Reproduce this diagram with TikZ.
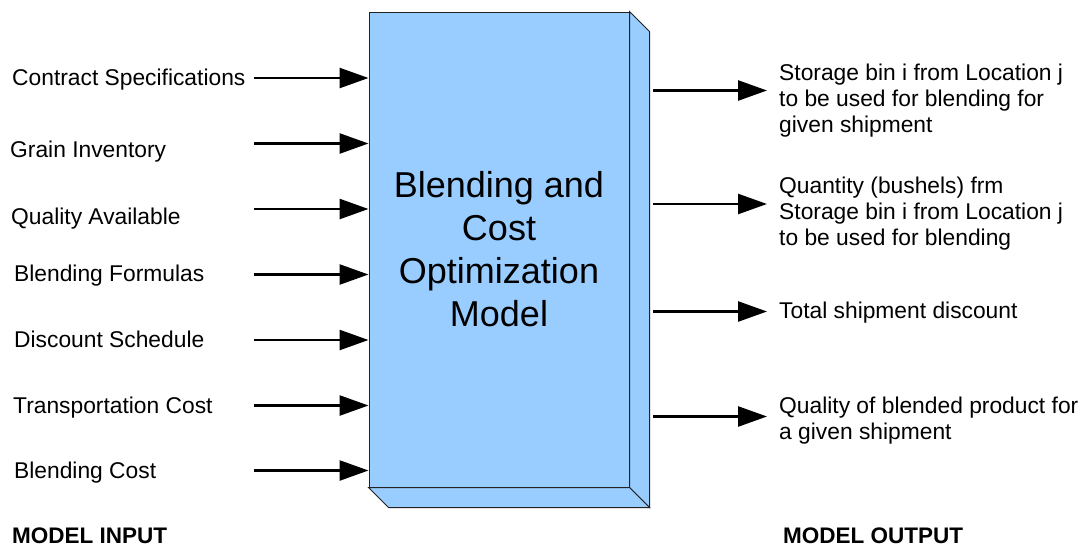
\documentclass[tikz,border=0pt]{standalone}
\usepackage{fontspec}
\setmainfont{Liberation Sans}
\usetikzlibrary{arrows.meta}

\definecolor{boxblue}{RGB}{153,204,255}
\definecolor{edge}{RGB}{34,34,34}

\tikzset{
  flow/.style={line width=2.6pt, -{Triangle[length=29pt,width=20pt]}},
  inlabel/.style={anchor=base west, inner sep=0pt, font=\fontsize{22.8}{26}\selectfont},
  outlabel/.style={anchor=north west, inner sep=0pt, align=left,
                   font=\fontsize{22.8}{26}\selectfont},
  heading/.style={anchor=base west, inner sep=0pt, font=\fontsize{22.5}{26}\selectfont\bfseries},
  face/.style={fill=boxblue, draw=edge, line width=1pt, line join=miter},
  modelbox/.style={face, minimum width=260pt, minimum height=475pt, inner sep=0pt,
                   align=center, font=\fontsize{36}{43}\selectfont}
}

\begin{document}
\begin{tikzpicture}[x=1pt, y=-1pt]
\useasboundingbox (0,0) rectangle (1088,547);

% front face of the block with its title
\node[modelbox] (model) at (499,249.5)
  {Blending and\\Cost\\Optimization\\Model};

% right side and bottom faces giving depth
\path[face] (model.north east) -- ([shift={(20,20)}]model.north east)
  -- ([shift={(20,20)}]model.south east) -- (model.south east) -- cycle;
\path[face] (model.south west) -- ([shift={(20,20)}]model.south west)
  -- ([shift={(20,20)}]model.south east) -- (model.south east) -- cycle;

% inputs
\node[inlabel] (i1) at (12,85)    {Contract Specifications};
\node[inlabel] (i2) at (10,157.5) {Grain Inventory};
\node[inlabel] (i3) at (11,224)   {Quality Available};
\node[inlabel] (i4) at (14,281)   {Blending Formulas};
\node[inlabel] (i5) at (14,347)   {Discount Schedule};
\node[inlabel] (i6) at (13,413)   {Transportation Cost};
\node[inlabel] (i7) at (14,478)   {Blending Cost};

\foreach \k/\y in {1/78,2/143.5,3/209,4/274.5,5/340,6/405.5,7/470.5}{
  \coordinate (s\k) at (254,\y);
  \draw[flow] (s\k) -- (s\k -| model.west);
}

% outputs
\node[outlabel] (o1) at (779,64)
  {Storage bin i from Location j\\to be used for blending for\\given shipment};
\node[outlabel] (o2) at (779,176.5)
  {Quantity (bushels) frm\\Storage bin i from Location j\\to be used for blending};
\node[outlabel] (o3) at (779,301.5) {Total shipment discount};
\node[outlabel] (o4) at (779,396.5)
  {Quality of blended product for\\a given shipment};

\foreach \k/\y in {1/90.5,2/204,3/311.5,4/416.5}{
  \coordinate (t\k) at (653,\y);
  \draw[flow, shorten >=12pt] (t\k) -- (t\k -| o\k.west);
}

% column headings
\node[heading] (hin)  at (12,543)  {MODEL INPUT};
\node[heading] (hout) at (783,543) {MODEL OUTPUT};
\end{tikzpicture}
\end{document}
